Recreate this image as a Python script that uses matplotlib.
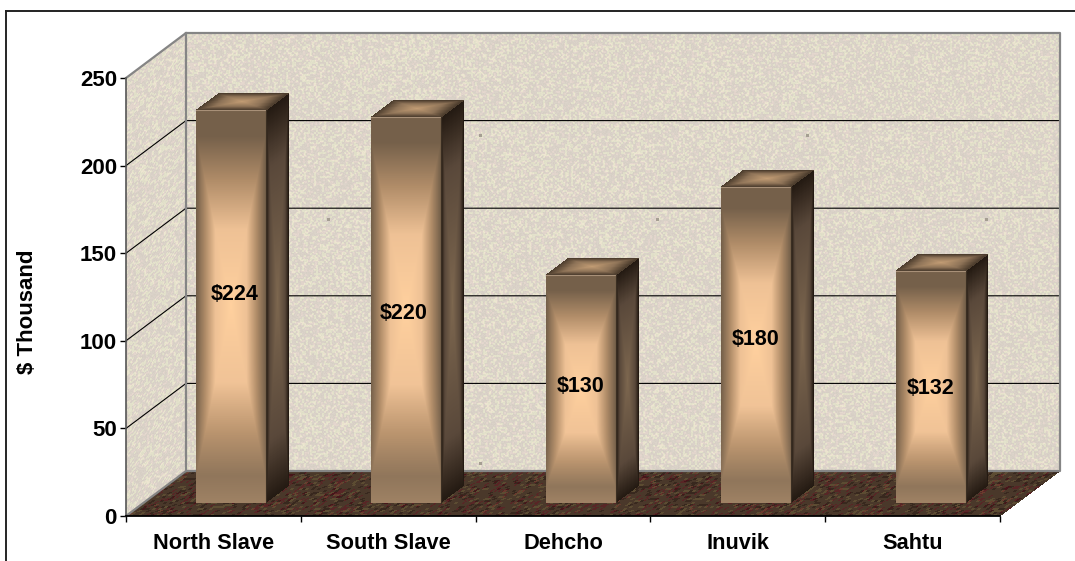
"""Sales by region - 3D style column chart on textured walls."""

import numpy as np
import matplotlib
matplotlib.use("Agg")
import matplotlib.pyplot as plt
from matplotlib.colors import LinearSegmentedColormap
from matplotlib.lines import Line2D

regions = ["North Slave", "South Slave", "Dehcho", "Inuvik", "Sahtu"]
values = [224, 220, 130, 180, 132]
value_labels = ["$224", "$220", "$130", "$180", "$132"]
y_ticks = [0, 50, 100, 150, 200, 250]

W, H = 1075, 561
plt.rcParams["font.family"] = ["Liberation Sans", "DejaVu Sans"]
plt.rcParams["font.weight"] = "bold"

# depth of the fake 3D box, in data units
DX = 60 / 174.8
DY = 45 / 1.752
BAR_D0, BAR_D1 = 0.30, 0.68
BAR_HALF = 0.2
LABEL_NUDGE = [(0.02, 7), (-0.015, -2), (0, 1), (0, 3), (0, -1)]  # per bar, x / y

front = LinearSegmentedColormap.from_list(
    "front", [(0, "#ffd09e"), (0.45, "#eec195"), (0.74, "#b08c68"), (1, "#75604a")])
side = LinearSegmentedColormap.from_list(
    "side", [(0, "#7d674f"), (0.7, "#59483a"), (1, "#241a12")])
top = LinearSegmentedColormap.from_list(
    "top", [(0, "#c29c74"), (0.6, "#8f7458"), (1, "#4e3e2e")])


def hash_noise(i, j, k=0.0):
    # repeatable per pixel grain, only used for the wall texture
    return np.mod(np.sin(i * 12.9898 + j * 78.233 + k) * 43758.5453, 1.0)


def wall_texture(nx, ny):
    i, j = np.meshgrid(np.arange(nx), np.arange(ny))
    # soft grain, light yellow and pink flecks on pale beige
    n1 = hash_noise(i, j)
    n2 = hash_noise(i // 2, j // 2, 3.1)
    n3 = hash_noise((i + 1) // 2, (j + 1) // 2, 5.3)
    rgb = np.ones((ny, nx, 3)) * np.array([217, 209, 199], float)
    rgb += ((n2 > 0.66)[..., None]) * np.array([9, 15, 3], float)
    rgb += ((n3 > 0.72)[..., None]) * np.array([9, 4, 5], float)
    rgb += (n1 - 0.5)[..., None] * 6
    return np.clip(rgb / 255, 0, 1)


def floor_texture(nx, ny):
    i, j = np.meshgrid(np.arange(nx), np.arange(ny))
    n1 = hash_noise(i // 2, j // 3)
    n2 = hash_noise(i // 3, j // 2, 1.7)
    rgb = np.ones((ny, nx, 3)) * np.array([74, 56, 42], float)
    rgb += ((n1 > 0.84)[..., None]) * np.array([14, -18, -4], float)
    rgb += ((n2 > 0.85)[..., None]) * np.array([18, 20, 8], float)
    rgb += ((n2 < 0.15)[..., None]) * np.array([-18, -16, -12], float)
    return np.clip(rgb / 255, 0, 1)


def mesh(ax, x0, y0, ax_x, ax_y, bx, by, colors, z):
    # parallelogram with a pixel grid: origin + s*(ax_x, ax_y) + t*(bx, by)
    ny, nx = colors.shape[:2]
    s, t = np.meshgrid(np.linspace(0, 1, nx + 1), np.linspace(0, 1, ny + 1))
    X = x0 + s * ax_x + t * bx
    Y = y0 + s * ax_y + t * by
    m = ax.pcolormesh(X, Y, colors, shading="flat", antialiased=False,
                      linewidth=0, zorder=z, clip_on=False)
    return m


def path_gradient(nx, ny, cmap, vscale=1.0):
    u, v = np.meshgrid(np.linspace(-1, 1, nx), np.linspace(-1, 1, ny))
    t = np.clip(np.maximum(np.abs(u), np.abs(v) * vscale), 0, 1)
    return cmap(t)[..., :3], v


fig = plt.figure(figsize=(W / 100, H / 100), dpi=100)
ax = fig.add_axes([126 / W, (H - 516) / H, 874 / W, 438 / H])
ax.set_xlim(0, 5)
ax.set_ylim(0, 250)
ax.patch.set_visible(False)

# back wall, with the few darker blots of the tiled texture
back = wall_texture(872, 439)
jj, ii = np.mgrid[0:439, 0:872]
blot = ((ii + 186 - 478) % 327 < 3) & ((471 - jj - 134) % 329 < 3)
blot |= ((ii + 186 - 327) % 328 < 3) & ((471 - jj - 218) % 500 < 3)
back[blot] = np.array([165, 158, 146]) / 255
mesh(ax, DX, DY, 5, 0, 0, 250, back, 1)

# left wall and floor
mesh(ax, 0, 0, DX, DY, 0, 250, wall_texture(60, 439), 1)
mesh(ax, 0, 0, 5, 0, DX, DY, floor_texture(874, 45), 1)

# grid runs up the left wall and then across the back wall
for v in y_ticks[1:-1]:
    ax.plot([0, DX, 5 + DX], [v, v + DY, v + DY], color="black", lw=0.8,
            zorder=2, clip_on=False)

# grey box edges
edge = dict(color="#858585", lw=1.6, zorder=2, clip_on=False)
ax.plot([0, DX, 5 + DX, 5 + DX, DX, DX], [250, 250 + DY, 250 + DY, DY, DY, 250 + DY], **edge)
ax.plot([0, DX], [0, DY], **edge)

for i, val in enumerate(values):
    x0 = i + 0.5 - BAR_HALF + BAR_D0 * DX
    x1 = i + 0.5 + BAR_HALF + BAR_D0 * DX
    y0 = BAR_D0 * DY
    y1 = val + BAR_D0 * DY
    ddx = (BAR_D1 - BAR_D0) * DX
    ddy = (BAR_D1 - BAR_D0) * DY

    # front face, a bit lighter towards the floor
    c, vv = path_gradient(70, int(val * 1.752), front, vscale=1.15)
    lift = np.clip(-vv, 0, 1)[..., None] ** 3
    c = np.clip(c + lift * np.array([0.16, 0.13, 0.10]), 0, 1)
    mesh(ax, x0, y0, x1 - x0, 0, 0, val, c, 3)

    # right side face
    c, _ = path_gradient(23, int(val * 1.752), side)
    mesh(ax, x1, y0, ddx, ddy, 0, val, c, 3)

    # top face
    c, _ = path_gradient(70, 17, top)
    mesh(ax, x0, y1, x1 - x0, 0, ddx, ddy, c, 3)
    ax.plot([x0, x1], [y1, y1], color="#a89078", lw=0.8, zorder=3.5, clip_on=False)
    ax.plot([x1, x1], [y0, y1], color="#3a2e22", lw=0.8, zorder=3.5, clip_on=False)

    nx_, ny_ = LABEL_NUDGE[i]
    ax.text(i + 0.5 + BAR_D0 * DX + nx_, y0 + val / 2 + ny_, value_labels[i],
            ha="center", va="center", fontsize=15.5, color="black", zorder=5)

# axes
for name in ("top", "right"):
    ax.spines[name].set_visible(False)
ax.spines["left"].set_color("#555555")
ax.spines["left"].set_linewidth(1.2)
ax.spines["bottom"].set_color("black")
ax.spines["bottom"].set_linewidth(1.3)
ax.set_yticks(y_ticks)
ax.set_xticks(range(6))
ax.set_xticklabels([])
ax.set_xticks(np.arange(5) + 0.5, regions, minor=True)
ax.tick_params(axis="x", which="major", length=4.5, width=1, direction="out")
ax.tick_params(axis="x", which="minor", length=0, pad=12, labelsize=15.7)
ax.tick_params(axis="y", length=4.5, width=1, pad=2, labelsize=16)
ax.set_ylabel(r"\$ Thousand", fontsize=16, fontweight="bold")
ax.yaxis.set_label_coords((38 - 126) / 874, (516 - 312) / 438)

# outer chart frame, only top and left are inside the picture
fig.add_artist(Line2D([6 / W, 6 / W], [0, 1 - 11 / H], color="black", lw=1.2))
fig.add_artist(Line2D([6 / W, 1], [1 - 11 / H, 1 - 11 / H], color="#222222", lw=1.4))

fig.savefig("out.png", dpi=100, facecolor="white")
